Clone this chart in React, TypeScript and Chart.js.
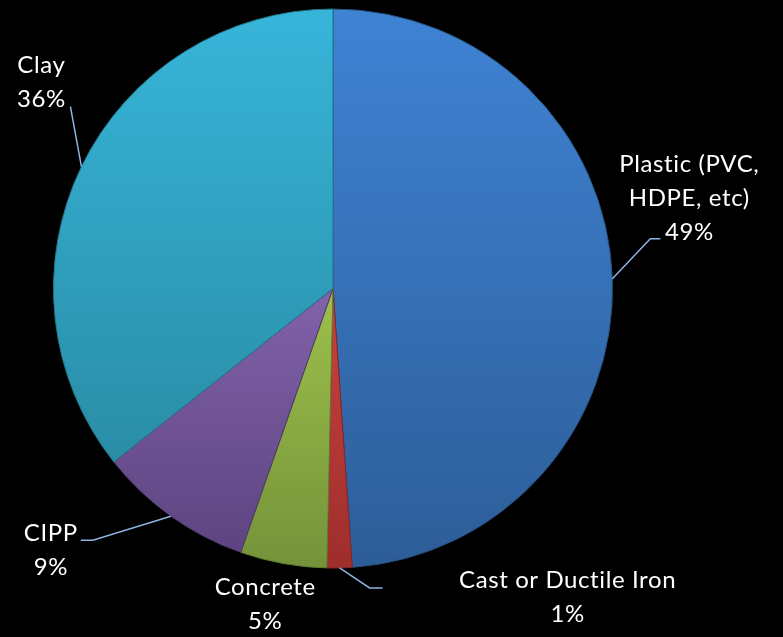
import React, { useEffect, useRef } from "react";
import { Chart, registerables } from "chart.js";
Chart.register(...registerables);

const categories = ["Plastic (PVC, HDPE, etc)", "Cast or Ductile Iron", "Concrete", "CIPP", "Clay"];
const labelLines = [["Plastic (PVC,", "HDPE, etc)"], ["Cast or Ductile Iron"], ["Concrete"], ["CIPP"], ["Clay"]];
const shares = [48.9, 1.45, 5.0, 9.0, 35.65];
const topColors = ["#3F83D4", "#C9423F", "#9DC04B", "#8262AA", "#37B5DA"];
const bottomColors = ["#2D5D98", "#9E2E2B", "#74933A", "#5D4480", "#2A8DA6"];
const edgeColors = ["#26507F", "#862624", "#617B30", "#4D386B", "#237789"];
// label block anchor (centre x, first baseline) offset from slice edge midpoint
const labelOffsets = [
  { dx: 77, dy: -107 },
  { dx: 228, dy: 20 },
  { dx: -18, dy: 31 },
  { dx: -120, dy: 25 },
  { dx: -40, dy: -94 },
];
// leader polyline points relative to slice edge midpoint
const leaders: number[][][] = [
  [[38, -40], [48, -40]],
  [[30, 20], [43, 20]],
  [],
  [[-78, 24], [-90, 24]],
  [[-11, -60]],
];

const FONT = "24px Lato, 'Open Sans', sans-serif";
const LINE_H = 34;

function sliceGradient(ctx: any) {
  const chart = ctx.chart;
  const i = ctx.dataIndex;
  const area = chart.chartArea;
  if (!area || i === undefined) return topColors[i ?? 0];
  const cx = (area.left + area.right) / 2;
  const cy = (area.top + area.bottom) / 2;
  const r = Math.min(area.right - area.left, area.bottom - area.top) / 2;
  const data = chart.data.datasets[0].data as number[];
  const total = data.reduce((a, b) => a + b, 0);
  let cum = 0;
  for (let k = 0; k < i; k++) cum += data[k];
  const a0 = -Math.PI / 2 + (cum / total) * Math.PI * 2;
  const a1 = a0 + (data[i] / total) * Math.PI * 2;
  const ys = [cy, cy + Math.sin(a0) * r, cy + Math.sin(a1) * r];
  const inRange = (a: number) => {
    let t = a;
    while (t < a0) t += Math.PI * 2;
    return t <= a1;
  };
  if (inRange(-Math.PI / 2)) ys.push(cy - r);
  if (inRange(Math.PI / 2)) ys.push(cy + r);
  const y0 = Math.min(...ys);
  const y1 = Math.max(...ys);
  const g = chart.ctx.createLinearGradient(0, y0, 0, y1);
  g.addColorStop(0, topColors[i]);
  g.addColorStop(1, bottomColors[i]);
  return g;
}

const labelPlugin = {
  id: "sliceLabels",
  afterDatasetsDraw(chart: any) {
    const ctx = chart.ctx;
    const meta = chart.getDatasetMeta(0);
    const data = chart.data.datasets[0].data as number[];
    const total = data.reduce((a, b) => a + b, 0);
    ctx.save();
    meta.data.forEach((arc: any, i: number) => {
      const p = arc.getProps(["x", "y", "startAngle", "endAngle", "outerRadius"], true);
      const mid = (p.startAngle + p.endAngle) / 2;
      const ex = p.x + Math.cos(mid) * p.outerRadius;
      const ey = p.y + Math.sin(mid) * p.outerRadius;
      const pts = leaders[i];
      if (pts.length) {
        ctx.strokeStyle = "#8DB3E2";
        ctx.lineWidth = 1.5;
        ctx.beginPath();
        ctx.moveTo(ex, ey);
        pts.forEach(([dx, dy]) => ctx.lineTo(ex + dx, ey + dy));
        ctx.stroke();
      }
      const lines = [...labelLines[i], Math.round((data[i] / total) * 100) + "%"];
      ctx.fillStyle = "#FFFFFF";
      ctx.font = FONT;
      try { (ctx as any).letterSpacing = "0.6px"; } catch (e) {}
      ctx.textAlign = "center";
      ctx.textBaseline = "alphabetic";
      const lx = ex + labelOffsets[i].dx;
      const ly = ey + labelOffsets[i].dy;
      lines.forEach((t, k) => ctx.fillText(t, lx, ly + k * LINE_H));
    });
    ctx.restore();
  },
};

export default function App() {
  const ref = useRef<HTMLCanvasElement>(null);
  useEffect(() => {
    document.body.style.margin = "0";
    document.body.style.background = "#000";
    const chart = new Chart(ref.current!, {
      type: "pie",
      data: {
        labels: categories,
        datasets: [
          {
            data: shares,
            backgroundColor: sliceGradient as any,
            borderColor: edgeColors,
            borderWidth: 1,
          },
        ],
      },
      options: {
        responsive: false,
        animation: false,
        layout: { padding: { left: 53, right: 170, top: 8, bottom: 68 } },
        plugins: { legend: { display: false }, tooltip: { enabled: false } },
      },
      plugins: [labelPlugin],
    });
    return () => chart.destroy();
  }, []);
  return (
    <div style={{ width: 783, height: 637, background: "#000" }}>
      <canvas ref={ref} width={783} height={637} style={{ display: "block" }} />
    </div>
  );
}
